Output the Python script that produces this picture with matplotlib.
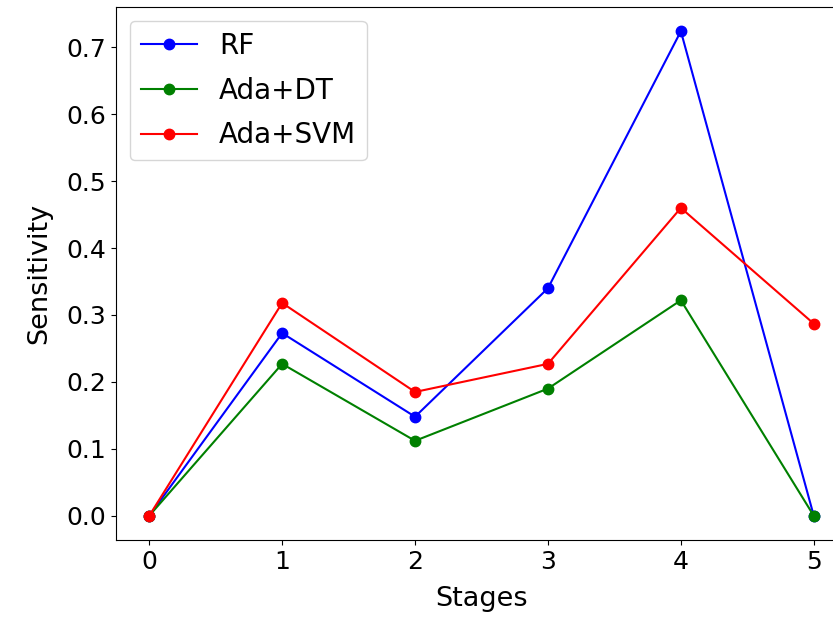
import matplotlib
matplotlib.use("Agg")
import matplotlib.pyplot as plt

stages = [0, 1, 2, 3, 4, 5]
rf = [0.0, 0.273, 0.148, 0.340, 0.724, 0.0]
ada_dt = [0.0, 0.227, 0.112, 0.190, 0.322, 0.0]
ada_svm = [0.0, 0.318, 0.185, 0.227, 0.460, 0.287]

plt.rcParams["font.family"] = ["DejaVu Sans"]

fig = plt.figure(figsize=(8.33, 6.18), dpi=100)
ax = fig.add_axes([116 / 833, 1 - 540 / 618, 731 / 833, 533 / 618])

ax.plot(stages, rf, "-o", color="blue", label="RF", linewidth=1.5, markersize=7.5)
ax.plot(stages, ada_dt, "-o", color="green", label="Ada+DT", linewidth=1.5, markersize=7.5)
ax.plot(stages, ada_svm, "-o", color="red", label="Ada+SVM", linewidth=1.5, markersize=7.5)

ax.set_xlabel("Stages", fontsize=19.5, labelpad=9)
ax.set_ylabel("Sensitivity", fontsize=19.5, labelpad=10)
ax.tick_params(labelsize=18)
ax.legend(loc="upper left", fontsize=20, labelspacing=0.6)

fig.savefig("out.png", dpi=100)
